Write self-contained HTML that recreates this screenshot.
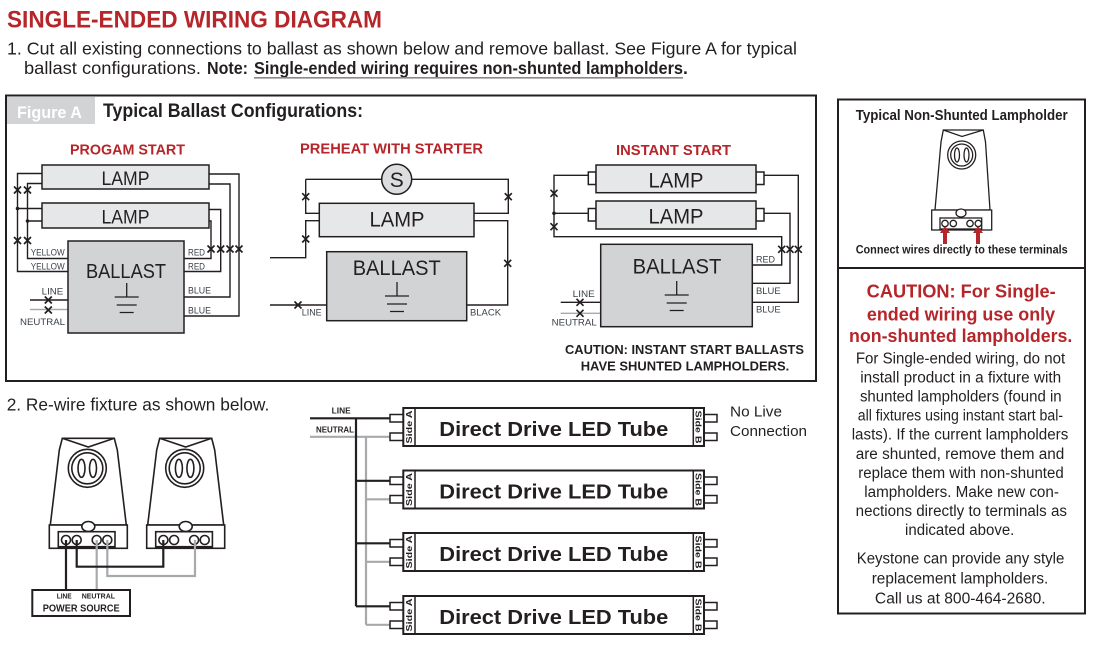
<!DOCTYPE html>
<html><head><meta charset="utf-8">
<style>
html,body{margin:0;padding:0;background:#fff;}
svg{display:block;font-family:"Liberation Sans Narrow","Liberation Sans",sans-serif;}
text{fill:#231f20}
.w{fill:none;stroke:#231f20;stroke-width:1.4}
.gw{fill:none;stroke:#a7a9ac;stroke-width:1.4}
.lb{font-size:9.5px;fill:#3a4049}
.r{fill:#b5252a;font-weight:bold}
.b{font-weight:bold}
.s{stroke:#231f20;stroke-width:1.5}
</style></head><body>
<svg width="1100" height="645" viewBox="0 0 1100 645" xmlns="http://www.w3.org/2000/svg">
<defs>
<path id="xm" d="M-3.5-3.5L3.5 3.5M3.5-3.5L-3.5 3.5" fill="none" stroke="#231f20" stroke-width="1.7"/>
<path id="gnd" d="M0 0V14M-12 14H12M-10 22H10M-7 29.5H7" fill="none" stroke="#231f20" stroke-width="1.3"/>
<g id="lh" fill="#fff" stroke="#231f20" stroke-width="1.6">
  <path d="M62.3 438.3H114.3L117.3 450L126.3 525H50.3L59.3 450Z"/>
  <path d="M62.3 438.3L88.3 447L114.3 438.3" fill="none"/>
  <circle cx="87.3" cy="468.3" r="19"/>
  <circle cx="87.3" cy="468.3" r="15.5"/>
  <ellipse cx="81.5" cy="468.3" rx="3.5" ry="9"/>
  <ellipse cx="93" cy="468.3" rx="3.5" ry="9"/>
  <rect x="49.3" y="525" width="78" height="23.3"/>
  <ellipse cx="88.3" cy="526.5" rx="6.5" ry="5"/>
  <rect x="58.3" y="531.7" width="56.7" height="15"/>
  <circle cx="66" cy="540" r="4.5"/>
  <circle cx="76.7" cy="540" r="4.5"/>
  <circle cx="96.7" cy="540" r="4.5"/>
  <circle cx="107.3" cy="540" r="4.5"/>
</g>
</defs>

<!-- Header -->
<text x="7" y="27.3" class="r" font-size="24" textLength="375" lengthAdjust="spacingAndGlyphs">SINGLE-ENDED WIRING DIAGRAM</text>
<text x="7" y="54.5" font-size="17.5" textLength="790" lengthAdjust="spacingAndGlyphs">1. Cut all existing connections to ballast as shown below and remove ballast. See Figure A for typical</text>
<text x="24" y="74" font-size="17.5" textLength="177" lengthAdjust="spacingAndGlyphs">ballast configurations.</text>
<text x="207" y="74" font-size="17.5" class="b" textLength="41" lengthAdjust="spacingAndGlyphs">Note:</text>
<text x="254" y="74" font-size="17.5" class="b" textLength="429" lengthAdjust="spacingAndGlyphs">Single-ended wiring requires non-shunted lampholders</text>
<text x="683" y="74" font-size="17.5" class="b">.</text>
<line x1="254" y1="77.8" x2="683" y2="77.8" stroke="#8a8a8a" stroke-width="1.6"/>

<!-- Figure A box -->
<rect x="6" y="95.5" width="810" height="285.5" fill="none" stroke="#231f20" stroke-width="2"/>
<rect x="7" y="97" width="88" height="27" fill="#d1d3d4"/>
<text x="17" y="118" font-size="17" class="b" style="fill:#fff" textLength="65" lengthAdjust="spacingAndGlyphs">Figure A</text>
<text x="103" y="117" font-size="19" class="b" textLength="260" lengthAdjust="spacingAndGlyphs">Typical Ballast Configurations:</text>

<!-- PROGRAM START -->
<text x="70" y="154.5" class="r" font-size="15" textLength="115" lengthAdjust="spacingAndGlyphs">PROGAM START</text>
<path class="w" d="M42 173.5H17.5V271.5H68M42 183.5H27.5V258.5H68M17.5 208.5H42M27.5 221H42"/>
<circle cx="17.5" cy="208.5" r="1.8" fill="#231f20"/>
<circle cx="27.5" cy="221" r="1.8" fill="#231f20"/>
<path class="w" d="M209 174H239V316H184M209 184H230V297H184M209 209.5H220.7V271.5H184M209 221H211V258.5H184"/>
<rect x="42" y="165" width="167" height="24" fill="#e6e7e8" class="s"/>
<text x="125.5" y="185" text-anchor="middle" font-size="19" textLength="48" lengthAdjust="spacingAndGlyphs">LAMP</text>
<rect x="42" y="203" width="167" height="25" fill="#e6e7e8" class="s"/>
<text x="125.5" y="223.3" text-anchor="middle" font-size="19" textLength="48" lengthAdjust="spacingAndGlyphs">LAMP</text>
<path class="w" d="M30 300H68"/>
<path class="gw" d="M30 309.5H68"/>
<rect x="68" y="241" width="116" height="92" fill="#d1d3d4" class="s"/>
<text x="126" y="278" text-anchor="middle" font-size="20" textLength="80" lengthAdjust="spacingAndGlyphs">BALLAST</text>
<use href="#gnd" x="126.7" y="283"/>
<use href="#xm" x="17.5" y="190"/><use href="#xm" x="27.5" y="190"/>
<use href="#xm" x="17.5" y="240.5"/><use href="#xm" x="27.5" y="240.5"/>
<use href="#xm" x="211" y="249"/><use href="#xm" x="220.7" y="249"/><use href="#xm" x="230" y="249"/><use href="#xm" x="239" y="249"/>
<use href="#xm" x="48.3" y="300"/><use href="#xm" x="48.3" y="310"/>
<text x="30.7" y="255.5" class="lb" textLength="34" lengthAdjust="spacingAndGlyphs">YELLOW</text>
<text x="30.7" y="269.5" class="lb" textLength="34" lengthAdjust="spacingAndGlyphs">YELLOW</text>
<text x="188" y="255.5" class="lb" textLength="17" lengthAdjust="spacingAndGlyphs">RED</text>
<text x="188" y="269.5" class="lb" textLength="17" lengthAdjust="spacingAndGlyphs">RED</text>
<text x="188" y="293.5" class="lb" textLength="23" lengthAdjust="spacingAndGlyphs">BLUE</text>
<text x="188" y="313.5" class="lb" textLength="23" lengthAdjust="spacingAndGlyphs">BLUE</text>
<text x="41.7" y="294.5" class="lb" textLength="21.6" lengthAdjust="spacingAndGlyphs">LINE</text>
<text x="20" y="325" class="lb" textLength="45" lengthAdjust="spacingAndGlyphs">NEUTRAL</text>

<!-- PREHEAT -->
<text x="300" y="153.5" class="r" font-size="15" textLength="183" lengthAdjust="spacingAndGlyphs">PREHEAT WITH STARTER</text>
<path class="w" d="M305.7 179.3H508.3V213.3H474M305.7 179.3V213.3H319.3M319.3 220.7H305.7V257.7H270M474 220.7H507.7V305H466.7M270 305H326.7"/>
<circle cx="396.7" cy="179.3" r="15" fill="#dcddde" class="s"/>
<text x="396.7" y="187" text-anchor="middle" font-size="21">S</text>
<rect x="319.3" y="203.3" width="154.7" height="33.4" fill="#e6e7e8" class="s"/>
<text x="397" y="226.7" text-anchor="middle" font-size="21" textLength="55" lengthAdjust="spacingAndGlyphs">LAMP</text>
<rect x="326.7" y="251.7" width="140" height="69" fill="#d1d3d4" class="s"/>
<text x="396.7" y="275" text-anchor="middle" font-size="21" textLength="88" lengthAdjust="spacingAndGlyphs">BALLAST</text>
<use href="#gnd" x="397" y="282"/>
<use href="#xm" x="305.7" y="196.7"/><use href="#xm" x="508.3" y="196.7"/>
<use href="#xm" x="305.7" y="239"/><use href="#xm" x="507.7" y="263.3"/>
<use href="#xm" x="298" y="305"/>
<text x="301.7" y="315.5" class="lb" textLength="20" lengthAdjust="spacingAndGlyphs">LINE</text>
<text x="470" y="315.5" class="lb" textLength="31" lengthAdjust="spacingAndGlyphs">BLACK</text>

<!-- INSTANT START -->
<text x="616" y="155" class="r" font-size="15" textLength="115" lengthAdjust="spacingAndGlyphs">INSTANT START</text>
<path class="w" d="M588.3 175.3H554V236.7H781.7V265H752.3M588.3 213.3H554M764 175.3H798.3V302.3H752.3M764 213.3H790V283.3H752.3M560.7 302.3H600.7"/>
<path class="gw" d="M560.7 313.3H600.7"/>
<circle cx="554" cy="213.3" r="1.8" fill="#231f20"/>
<rect x="588.3" y="172" width="7.7" height="12.5" fill="#fff" class="s"/>
<rect x="756" y="172" width="8" height="12.5" fill="#fff" class="s"/>
<rect x="588.3" y="208.5" width="7.7" height="12.5" fill="#fff" class="s"/>
<rect x="756" y="208.5" width="8" height="12.5" fill="#fff" class="s"/>
<rect x="596" y="165" width="160" height="27.7" fill="#e6e7e8" class="s"/>
<text x="676" y="187.3" text-anchor="middle" font-size="21" textLength="55" lengthAdjust="spacingAndGlyphs">LAMP</text>
<rect x="596" y="201" width="160" height="28" fill="#e6e7e8" class="s"/>
<text x="676" y="223.3" text-anchor="middle" font-size="21" textLength="55" lengthAdjust="spacingAndGlyphs">LAMP</text>
<rect x="600.7" y="244.3" width="151.6" height="82.4" fill="#d1d3d4" class="s"/>
<text x="677" y="273.3" text-anchor="middle" font-size="21" textLength="88.7" lengthAdjust="spacingAndGlyphs">BALLAST</text>
<use href="#gnd" x="676.7" y="281"/>
<use href="#xm" x="554" y="193.3"/><use href="#xm" x="554" y="226.7"/>
<use href="#xm" x="781.7" y="249.3"/><use href="#xm" x="790" y="249.3"/><use href="#xm" x="798.3" y="249.3"/>
<use href="#xm" x="580" y="302.3"/><use href="#xm" x="580" y="313.3"/>
<text x="756" y="262.5" class="lb" textLength="19" lengthAdjust="spacingAndGlyphs">RED</text>
<text x="756" y="294" class="lb" textLength="24.7" lengthAdjust="spacingAndGlyphs">BLUE</text>
<text x="756" y="312.7" class="lb" textLength="24.7" lengthAdjust="spacingAndGlyphs">BLUE</text>
<text x="572.7" y="297" class="lb" textLength="22" lengthAdjust="spacingAndGlyphs">LINE</text>
<text x="551.7" y="325.7" class="lb" textLength="45" lengthAdjust="spacingAndGlyphs">NEUTRAL</text>
<text x="565" y="354" class="b" font-size="13" textLength="239" lengthAdjust="spacingAndGlyphs">CAUTION: INSTANT START BALLASTS</text>
<text x="580.7" y="370.7" class="b" font-size="13" textLength="208.6" lengthAdjust="spacingAndGlyphs">HAVE SHUNTED LAMPHOLDERS.</text>

<!-- Right panel -->
<rect x="838" y="99.5" width="247" height="514" fill="none" stroke="#231f20" stroke-width="2"/>
<line x1="838" y1="268" x2="1085" y2="268" stroke="#231f20" stroke-width="2"/>
<text x="961.7" y="120" text-anchor="middle" class="b" font-size="14.5" textLength="212" lengthAdjust="spacingAndGlyphs">Typical Non-Shunted Lampholder</text>
<g fill="#fff" stroke="#231f20" stroke-width="1.3">
  <path d="M943.3 130H983.3L985.5 142L990 210H935L941 142Z"/>
  <path d="M943.3 130L962 136.5L983.3 130" fill="none"/>
  <circle cx="961.7" cy="155" r="14"/>
  <circle cx="961.7" cy="155" r="11"/>
  <ellipse cx="957" cy="155" rx="2.5" ry="7"/>
  <ellipse cx="966.5" cy="155" rx="2.5" ry="7"/>
  <rect x="931.7" y="210" width="60" height="20"/>
  <ellipse cx="961" cy="213" rx="5" ry="4"/>
  <rect x="940" y="218" width="41.7" height="11"/>
  <circle cx="945" cy="223.5" r="3.2"/>
  <circle cx="953.3" cy="223.5" r="3.2"/>
  <circle cx="970" cy="223.5" r="3.2"/>
  <circle cx="978.3" cy="223.5" r="3.2"/>
</g>
<g fill="#b5252a">
  <path d="M945 226L950 233H940Z"/><rect x="943" y="232.5" width="4" height="11.5"/>
  <path d="M978 226L983 233H973Z"/><rect x="976" y="232.5" width="4" height="11.5"/>
</g>
<text x="961.7" y="253.3" text-anchor="middle" class="b" font-size="11.5" textLength="212" lengthAdjust="spacingAndGlyphs">Connect wires directly to these terminals</text>

<g text-anchor="middle">
<text x="961.2" y="297.3" class="r" font-size="18" textLength="189" lengthAdjust="spacingAndGlyphs">CAUTION: For Single-</text>
<text x="961" y="320.5" class="r" font-size="18" textLength="188.3" lengthAdjust="spacingAndGlyphs">ended wiring use only</text>
<text x="960.7" y="342" class="r" font-size="18" textLength="223.3" lengthAdjust="spacingAndGlyphs">non-shunted lampholders.</text>
<g font-size="15.5">
<text x="960.5" y="363.3" textLength="209.3" lengthAdjust="spacingAndGlyphs">For Single-ended wiring, do not</text>
<text x="960.7" y="382.4" textLength="201" lengthAdjust="spacingAndGlyphs">install product in a fixture with</text>
<text x="960.8" y="401.5" textLength="201.7" lengthAdjust="spacingAndGlyphs">shunted lampholders (found in</text>
<text x="960.4" y="420.6" textLength="205.3" lengthAdjust="spacingAndGlyphs">all fixtures using instant start bal-</text>
<text x="960" y="439.7" textLength="216.6" lengthAdjust="spacingAndGlyphs">lasts). If the current lampholders</text>
<text x="960" y="458.8" textLength="208.6" lengthAdjust="spacingAndGlyphs">are shunted, remove them and</text>
<text x="961" y="477.9" textLength="205.4" lengthAdjust="spacingAndGlyphs">replace them with non-shunted</text>
<text x="961.6" y="497" textLength="194.7" lengthAdjust="spacingAndGlyphs">lampholders. Make new con-</text>
<text x="961.3" y="516.1" textLength="211.3" lengthAdjust="spacingAndGlyphs">nections directly to terminals as</text>
<text x="959.7" y="535.2" textLength="109.3" lengthAdjust="spacingAndGlyphs">indicated above.</text>
<text x="960.5" y="563.3" textLength="207.6" lengthAdjust="spacingAndGlyphs">Keystone can provide any style</text>
<text x="960" y="583.3" textLength="176.6" lengthAdjust="spacingAndGlyphs">replacement lampholders.</text>
<text x="960.3" y="603.3" textLength="170.7" lengthAdjust="spacingAndGlyphs">Call us at 800-464-2680.</text>
</g>
</g>

<!-- Step 2 -->
<text x="6.7" y="410.7" font-size="17.5" textLength="262.6" lengthAdjust="spacingAndGlyphs">2. Re-wire fixture as shown below.</text>
<use href="#lh"/>
<use href="#lh" x="97.4"/>
<path d="M96.7 540V590M107.3 540V576H195V540" fill="none" stroke="#a7a9ac" stroke-width="2.2"/>
<path d="M66 540V590M76.7 540V566.7H163.3V540" fill="none" stroke="#231f20" stroke-width="2.2"/>
<rect x="32.3" y="590" width="97.7" height="26" fill="#fff" stroke="#231f20" stroke-width="2"/>
<text x="56.7" y="598.5" class="b" font-size="7.5" textLength="15" lengthAdjust="spacingAndGlyphs">LINE</text>
<text x="81.7" y="598.5" class="b" font-size="7.5" textLength="33.3" lengthAdjust="spacingAndGlyphs">NEUTRAL</text>
<text x="42.7" y="611.7" class="b" font-size="10.5" textLength="77" lengthAdjust="spacingAndGlyphs">POWER SOURCE</text>

<!-- LED tubes wiring -->
<text x="331.7" y="413.3" class="b" font-size="8" textLength="19" lengthAdjust="spacingAndGlyphs">LINE</text>
<text x="316" y="432.3" class="b" font-size="8" textLength="38" lengthAdjust="spacingAndGlyphs">NEUTRAL</text>
<path d="M310 436.8H390M366 436.8V624.8M366 499.3H390M366 561.8H390M366 624.8H390" fill="none" stroke="#a7a9ac" stroke-width="2.2"/>
<path d="M310 418.3H390M356 418.3V606.3M356 480.8H390M356 543.3H390M356 606.3H390" fill="none" stroke="#231f20" stroke-width="2.2"/>

<g fill="#fff" stroke="#231f20" stroke-width="1.5">
  <rect x="390" y="414.5" width="13.3" height="7.5"/><rect x="390" y="433" width="13.3" height="7.5"/>
  <rect x="704" y="414.5" width="13" height="7.5"/><rect x="704" y="433" width="13" height="7.5"/>
  <rect x="390" y="477" width="13.3" height="7.5"/><rect x="390" y="495.5" width="13.3" height="7.5"/>
  <rect x="704" y="477" width="13" height="7.5"/><rect x="704" y="495.5" width="13" height="7.5"/>
  <rect x="390" y="539.5" width="13.3" height="7.5"/><rect x="390" y="558" width="13.3" height="7.5"/>
  <rect x="704" y="539.5" width="13" height="7.5"/><rect x="704" y="558" width="13" height="7.5"/>
  <rect x="390" y="602.5" width="13.3" height="7.5"/><rect x="390" y="621" width="13.3" height="7.5"/>
  <rect x="704" y="602.5" width="13" height="7.5"/><rect x="704" y="621" width="13" height="7.5"/>
</g>
<g fill="#fff" stroke="#231f20" stroke-width="2">
  <rect x="403.3" y="408" width="300.7" height="38"/>
  <rect x="403.3" y="470.5" width="300.7" height="38"/>
  <rect x="403.3" y="533" width="300.7" height="38"/>
  <rect x="403.3" y="596" width="300.7" height="38"/>
</g>
<path d="M415 408V446M693.3 408V446M415 470.5V508.5M693.3 470.5V508.5M415 533V571M693.3 533V571M415 596V634M693.3 596V634" stroke="#231f20" stroke-width="1.5"/>
<g class="b" font-size="20.5">
<text x="439.3" y="436" textLength="229" lengthAdjust="spacingAndGlyphs">Direct Drive LED Tube</text>
<text x="439.3" y="498.5" textLength="229" lengthAdjust="spacingAndGlyphs">Direct Drive LED Tube</text>
<text x="439.3" y="561" textLength="229" lengthAdjust="spacingAndGlyphs">Direct Drive LED Tube</text>
<text x="439.3" y="624" textLength="229" lengthAdjust="spacingAndGlyphs">Direct Drive LED Tube</text>
</g>
<g class="b" font-size="8.5" text-anchor="middle">
<text transform="translate(409.2,427) rotate(-90)" y="3" textLength="33" lengthAdjust="spacingAndGlyphs">Side A</text>
<text transform="translate(409.2,489.5) rotate(-90)" y="3" textLength="33" lengthAdjust="spacingAndGlyphs">Side A</text>
<text transform="translate(409.2,552) rotate(-90)" y="3" textLength="33" lengthAdjust="spacingAndGlyphs">Side A</text>
<text transform="translate(409.2,615) rotate(-90)" y="3" textLength="33" lengthAdjust="spacingAndGlyphs">Side A</text>
<text transform="translate(698.7,427) rotate(90)" y="3" textLength="33" lengthAdjust="spacingAndGlyphs">Side B</text>
<text transform="translate(698.7,489.5) rotate(90)" y="3" textLength="33" lengthAdjust="spacingAndGlyphs">Side B</text>
<text transform="translate(698.7,552) rotate(90)" y="3" textLength="33" lengthAdjust="spacingAndGlyphs">Side B</text>
<text transform="translate(698.7,615) rotate(90)" y="3" textLength="33" lengthAdjust="spacingAndGlyphs">Side B</text>
</g>
<text x="730" y="416.5" font-size="15" textLength="52" lengthAdjust="spacingAndGlyphs">No Live</text>
<text x="730" y="435.8" font-size="15" textLength="77" lengthAdjust="spacingAndGlyphs">Connection</text>
</svg>
</body></html>
